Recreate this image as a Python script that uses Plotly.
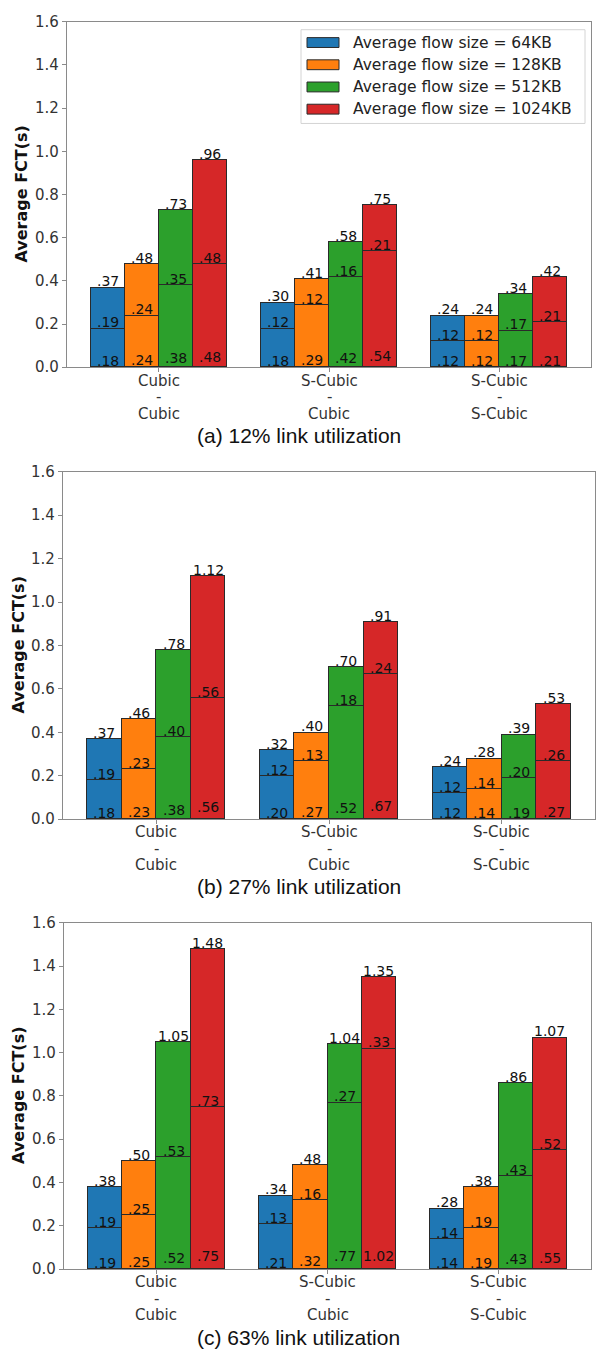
import plotly.graph_objects as go

W, H = 597, 1358

CATEGORIES = ["Cubic<br>-<br>Cubic", "S-Cubic<br>-<br>Cubic", "S-Cubic<br>-<br>S-Cubic"]
FLOW_SIZES = ["64KB", "128KB", "512KB", "1024KB"]
COLORS = ["#1f77b4", "#ff7f0e", "#2ca02c", "#d62728"]
Y_TICKS = [0.0, 0.2, 0.4, 0.6, 0.8, 1.0, 1.2, 1.4, 1.6]
CAPTIONS = ["(a) 12% link utilization", "(b) 27% link utilization", "(c) 63% link utilization"]

# Lower / upper stacked segment of each bar: one row per flow size,
# one column per protocol pair.
LOW_12 = [[0.18, 0.18, 0.12], [0.24, 0.29, 0.12], [0.38, 0.42, 0.17], [0.48, 0.54, 0.21]]
UP_12 = [[0.19, 0.12, 0.12], [0.24, 0.12, 0.12], [0.35, 0.16, 0.17], [0.48, 0.21, 0.21]]

LOW_27 = [[0.18, 0.20, 0.12], [0.23, 0.27, 0.14], [0.38, 0.52, 0.19], [0.56, 0.67, 0.27]]
UP_27 = [[0.19, 0.12, 0.12], [0.23, 0.13, 0.14], [0.40, 0.18, 0.20], [0.56, 0.24, 0.26]]

LOW_63 = [[0.19, 0.21, 0.14], [0.25, 0.32, 0.19], [0.52, 0.77, 0.43], [0.75, 1.02, 0.55]]
UP_63 = [[0.19, 0.13, 0.14], [0.25, 0.16, 0.19], [0.53, 0.27, 0.43], [0.73, 0.33, 0.52]]

PANELS = [(LOW_12, UP_12), (LOW_27, UP_27), (LOW_63, UP_63)]

# plot-area boxes in pixels: left, right, top, bottom
BOXES = [(67, 591, 13, 363), (63, 595, 469, 821), (64, 591, 926, 1277)]
CAPTION_Y = [432, 889, 1346]
YTITLE_X = [22, 18, 19]
# offsets (px below the axis) of the three lines of each category label
CAT_LINE_OFFSETS = [13.5, 30.3, 47.0]

BAR_W = 0.2
EDGE = "#2a2a2a"
TEXT_FONT = dict(family="DejaVu Sans", size=14, color="#111111")
TICK_FONT = dict(family="DejaVu Sans", size=15, color="#333333")


def px_x(p):
    return p / W


def px_y(p):
    return 1 - p / H


def fmt(v):
    s = f"{v:.2f}"
    return s[1:] if s.startswith("0") else s


fig = go.Figure()
annotations = []
shapes = []

for i, (low, up) in enumerate(PANELS):
    n = "" if i == 0 else str(i + 1)
    xref, yref = "x" + n, "y" + n
    for k, name in enumerate(FLOW_SIZES):
        xs = [c + (k - 1.5) * BAR_W for c in range(len(CATEGORIES))]
        for seg in (low[k], up[k]):
            fig.add_trace(go.Bar(
                x=xs, y=seg, width=BAR_W, name=name,
                marker=dict(color=COLORS[k], line=dict(color=EDGE, width=1)),
                xaxis=xref, yaxis=yref, showlegend=False, hoverinfo="skip",
            ))
        for x, lo, hi in zip(xs, low[k], up[k]):
            total = round(lo + hi, 2)
            # total on top of the bar
            annotations.append(dict(x=x, y=total, xref=xref, yref=yref, text=fmt(total),
                                    showarrow=False, yanchor="bottom", yshift=-4,
                                    font=TEXT_FONT))
            # upper segment value sitting on the divider line
            annotations.append(dict(x=x, y=lo, xref=xref, yref=yref, text=fmt(hi),
                                    showarrow=False, yanchor="bottom", yshift=-4,
                                    font=TEXT_FONT))
            # lower segment value near the base
            lift = max(0.0, min(7.0, 15 * (lo - 0.18)))
            annotations.append(dict(x=x, y=0, xref=xref, yref=yref, text=fmt(lo),
                                    showarrow=False, yanchor="bottom", yshift=-4 + lift,
                                    font=TEXT_FONT))

    left, right, top, bottom = BOXES[i]
    axis_common = dict(showline=True, mirror=True, linecolor="#8a8a8a", linewidth=1.2,
                       ticks="outside", ticklen=4, tickcolor="#8a8a8a", showgrid=False,
                       zeroline=False, tickfont=TICK_FONT)
    fig.update_layout({
        "xaxis" + n: dict(domain=[px_x(left), px_x(right)], range=[-0.54, 2.54],
                          tickvals=list(range(len(CATEGORIES))), showticklabels=False,
                          anchor=yref, **axis_common),
        "yaxis" + n: dict(domain=[px_y(bottom), px_y(top)], range=[0, 1.6],
                          tickvals=Y_TICKS, ticktext=[f"{t:.1f}" for t in Y_TICKS],
                          anchor=xref, **axis_common),
    })

    # category labels, one line per annotation for compact line spacing
    for c, label in enumerate(CATEGORIES):
        for line, off in zip(label.split("<br>"), CAT_LINE_OFFSETS):
            annotations.append(dict(x=c, y=px_y(bottom + off), xref=xref, yref="paper",
                                    text=line, showarrow=False, xanchor="center",
                                    yanchor="middle", font=TICK_FONT))

    annotations.append(dict(x=px_x(YTITLE_X[i]), y=px_y((top + bottom) / 2), xref="paper",
                            yref="paper", text="<b>Average FCT(s)</b>", textangle=-90,
                            showarrow=False, xanchor="center", yanchor="middle",
                            font=dict(family="DejaVu Sans", size=16, color="#111111")))
    annotations.append(dict(x=0.5, y=px_y(CAPTION_Y[i]), xref="paper", yref="paper",
                            text=CAPTIONS[i], showarrow=False, xanchor="center",
                            yanchor="middle",
                            font=dict(family="Liberation Sans", size=21, color="#111111")))

# legend box for the first panel
shapes.append(dict(type="rect", xref="paper", yref="paper",
                   x0=px_x(301), x1=px_x(585), y0=px_y(116), y1=px_y(21),
                   line=dict(color="#d4d4d4", width=1), fillcolor="rgba(255,255,255,0.85)"))
for k, name in enumerate(FLOW_SIZES):
    cy = 34 + 22.5 * k
    shapes.append(dict(type="rect", xref="paper", yref="paper",
                       x0=px_x(307), x1=px_x(339), y0=px_y(cy + 5), y1=px_y(cy - 5),
                       line=dict(color=EDGE, width=1), fillcolor=COLORS[k]))
    annotations.append(dict(x=px_x(351), y=px_y(cy), xref="paper", yref="paper",
                            text=f"Average flow size = {name}", showarrow=False,
                            xanchor="left", yanchor="middle",
                            font=dict(family="DejaVu Sans", size=15.5, color="#222222")))

fig.update_layout(
    width=W, height=H, margin=dict(l=0, r=0, t=0, b=0),
    paper_bgcolor="white", plot_bgcolor="white",
    barmode="stack", bargap=0, showlegend=False,
    annotations=annotations, shapes=shapes,
)

fig.write_html("out.html")
